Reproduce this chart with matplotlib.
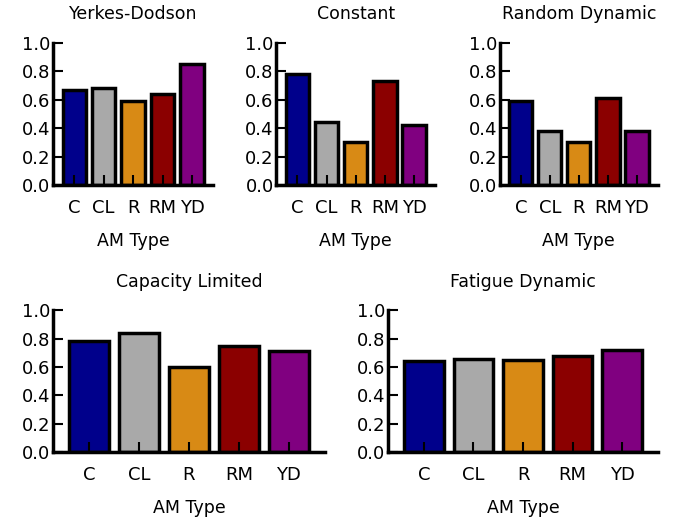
import numpy as np
import matplotlib
matplotlib.use('Agg')
import matplotlib.pyplot as plt

am_types = ['C', 'CL', 'R', 'RM', 'YD']
colors = ['#00008B', '#A9A9A9', '#D88A15', '#8B0000', '#800080']

yerkes_dodson = [0.67, 0.68, 0.59, 0.64, 0.85]
constant = [0.78, 0.44, 0.30, 0.73, 0.42]
random_dynamic = [0.59, 0.38, 0.30, 0.61, 0.38]
capacity_limited = [0.78, 0.84, 0.60, 0.75, 0.71]
fatigue_dynamic = [0.64, 0.66, 0.65, 0.68, 0.72]

panels = [
    ('Yerkes-Dodson', yerkes_dodson, [0.078, 0.645, 0.235, 0.2725]),
    ('Constant', constant, [0.406, 0.645, 0.233, 0.2725]),
    ('Random Dynamic', random_dynamic, [0.734, 0.645, 0.232, 0.2725]),
    ('Capacity Limited', capacity_limited, [0.078, 0.132, 0.399, 0.2725]),
    ('Fatigue Dynamic', fatigue_dynamic, [0.570, 0.132, 0.396, 0.2725]),
]

fig = plt.figure(figsize=(6.81, 5.21), dpi=100)
for title, vals, rect in panels:
    ax = fig.add_axes(rect)
    x = np.arange(len(am_types))
    ax.bar(x, vals, width=0.8, color=colors, edgecolor='black', linewidth=2.5)
    ax.set_xlim(-0.72, 4.72)
    ax.set_ylim(0, 1.0)
    ax.set_yticks([0.0, 0.2, 0.4, 0.6, 0.8, 1.0])
    ax.set_yticklabels(['0.0', '0.2', '0.4', '0.6', '0.8', '1.0'])
    ax.set_xticks(x)
    ax.set_xticklabels(am_types)
    ax.spines['top'].set_visible(False)
    ax.spines['right'].set_visible(False)
    ax.spines['left'].set_linewidth(2.5)
    ax.spines['bottom'].set_linewidth(2.5)
    ax.tick_params(axis='both', direction='in', length=7, width=1.5,
                   top=False, right=False, labelsize=13)
    ax.tick_params(axis='x', pad=10)
    ax.tick_params(axis='y', pad=2)
    ax.set_xlabel('AM Type', labelpad=11, fontsize=12.5)
    ax.set_title(title, pad=17, fontsize=12.5)

fig.savefig('out.png', dpi=100)
